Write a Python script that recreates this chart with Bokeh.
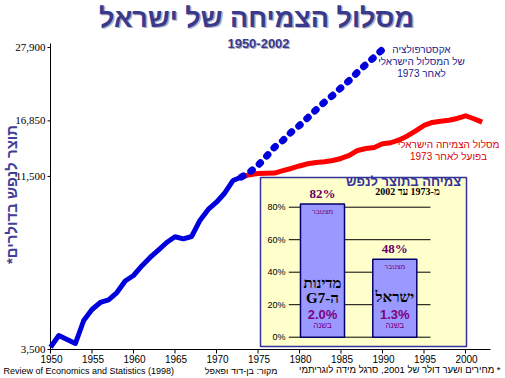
import math
from bokeh.plotting import figure
from bokeh.models import Range1d, Label, LinearScale
from bokeh.embed import file_html
from bokeh.resources import INLINE
from bokeh.core.properties import value

# ---------------- data ----------------
years_hist = list(range(1950, 1974))
gdp_hist = [3556, 3854, 3749, 3648, 4272, 4608, 4835, 4925, 5178, 5606,
            5821, 6216, 6590, 6935, 7303, 7595, 7490, 7610, 8497, 9163,
            9633, 10264, 11185, 11458]

years_extrap = list(range(1973, 1991))
gdp_extrap = [11458, 11842, 12399, 13195, 14062, 14723, 15588, 16325, 17214,
              18186, 19163, 20065, 21156, 22245, 23547, 24829, 26108, 27526]

years_actual = list(range(1973, 2003))
gdp_actual = [11458, 11641, 11737, 11761, 11769, 11965, 12148, 12358, 12547,
              12660, 12721, 12835, 13013, 13284, 13748, 13939, 14035, 14397,
              14496, 14778, 15190, 15721, 16325, 16666, 16816, 16920, 17131,
              17452, 17095, 16700]

y_ticks = [3500, 11500, 16850, 27900]
y_tick_labels = ["3,500", "11,500", "16,850", "27,900"]
x_ticks = [1950, 1955, 1960, 1965, 1970, 1975, 1980, 1985, 1990, 1995, 2000]
x_tick_labels = [str(t) for t in x_ticks]

inset_pos = [0, 1]
inset_cum = [82, 48]
inset_cum_labels = ["82%", "48%"]
inset_annual_labels = ["2.0%", "1.3%"]
inset_name_1 = ["מדינות", "ישראל"]
inset_name_2 = ["\u202bה-G7\u202c", ""]
inset_ticks = [0, 20, 40, 60, 80]
inset_tick_labels = ["0%", "20%", "40%", "60%", "80%"]

# ---------------- geometry of the full-canvas frame ----------------
W, H = 505, 378
X0_PX, PX_PER_YEAR = 50.0, 8.3            # 1950 sits at x=50
Y_LO_PX, Y_HI_PX = 349.0, 47.0            # 3500 at y=349, 27900 at y=47
L0 = math.log10(3500)
K = (math.log10(27900) - L0) / (Y_LO_PX - Y_HI_PX)
AXIS_TOP_PX, AXIS_RIGHT_PX = 43.0, 490.0

x_start = 1950 - X0_PX / PX_PER_YEAR
x_end = 1950 + (W - X0_PX) / PX_PER_YEAR
y_start = 10 ** (L0 - (H - Y_LO_PX) * K)
y_end = 10 ** (L0 + Y_LO_PX * K)
axis_top_val = 10 ** (L0 + (Y_LO_PX - AXIS_TOP_PX) * K)
axis_right_val = 1950 + (AXIS_RIGHT_PX - X0_PX) / PX_PER_YEAR

p = figure(width=W, height=H, title=None,
           x_range=Range1d(x_start, x_end), y_range=Range1d(y_start, y_end),
           y_axis_type="log",
           x_axis_location=None, y_axis_location=None,
           output_backend="svg", toolbar_location=None,
           min_border_left=0, min_border_right=0,
           min_border_top=0, min_border_bottom=0)
p.outline_line_color = None
p.xgrid.visible = False
p.ygrid.visible = False
p.background_fill_color = "white"
p.border_fill_color = "white"

# pixel helper range (value == canvas pixel from top-left)
p.extra_x_ranges["px"] = Range1d(0, W)
p.extra_y_ranges["px"] = Range1d(H, 0)
# inset ranges: bar i centred at 322 + 72.3*i px, 0% at y=336.7 px, 1.625 px per %
bar0, step = 322.0, 72.3
p.extra_x_ranges["ix"] = Range1d((0 - bar0) / step, (W - bar0) / step)
zero_px, ppp = 336.7, 1.625
p.extra_y_ranges["iy"] = Range1d((zero_px - H) / ppp, (zero_px - 0) / ppp)
p.extra_x_scales = {"px": LinearScale(), "ix": LinearScale()}
p.extra_y_scales = {"px": LinearScale(), "iy": LinearScale()}

# ---------------- axes (drawn with the plot's scales) ----------------
p.segment(x0=[1950], y0=[3500], x1=[1950], y1=[axis_top_val], line_color="black", line_width=1)
p.segment(x0=[1950], y0=[3500], x1=[axis_right_val], y1=[3500], line_color="black", line_width=1)
p.ray(x=[1950] * len(y_ticks), y=y_ticks, length=3, length_units="screen",
      angle=math.pi, line_color="black", line_width=1)
p.ray(x=x_ticks, y=[3500] * len(x_ticks), length=4, length_units="screen",
      angle=-math.pi / 2, line_color="black", line_width=1)
p.text(x=[1950] * len(y_ticks), y=y_ticks, text=y_tick_labels, x_offset=-5,
       text_align="right", text_baseline="middle",
       text_font=value("Liberation Serif"), text_font_size="11px", text_color="black")
p.text(x=x_ticks, y=[3500] * len(x_ticks), text=x_tick_labels, x_offset=1, y_offset=5,
       text_align="center", text_baseline="top",
       text_font=value("Liberation Sans"), text_font_size="10px", text_color="black")

# ---------------- main lines ----------------
BLUE = "#0000dd"
p.line(years_hist, gdp_hist, line_color=BLUE, line_width=5, line_join="round")
p.line(years_actual, gdp_actual, line_color="#ff0000", line_width=5, line_join="round")
p.line(years_extrap, gdp_extrap, line_color=BLUE, line_width=7,
       line_dash="2 9", line_cap="round")

# ---------------- inset ----------------
p.quad(left=[260], right=[466], top=[177], bottom=[346],
       fill_color="#ffffcc", line_color="#333399", line_width=1.5,
       x_range_name="px", y_range_name="px")
p.segment(x0=[-0.466] * len(inset_ticks), x1=[1.494] * len(inset_ticks),
          y0=inset_ticks, y1=inset_ticks, line_color="black", line_width=1,
          x_range_name="ix", y_range_name="iy")
p.text(x=[-0.51] * len(inset_ticks), y=inset_ticks, text=inset_tick_labels,
       text_align="right", text_baseline="middle", text_font=value("Liberation Sans"),
       text_font_size="9px", text_color="black",
       x_range_name="ix", y_range_name="iy")
p.vbar(x=inset_pos, top=inset_cum, bottom=0, width=0.609,
       fill_color="#9999ff", line_color="#000066", line_width=1.5,
       x_range_name="ix", y_range_name="iy")
p.text(x=inset_pos, y=inset_cum, text=inset_cum_labels, y_offset=-3,
       text_align="center", text_baseline="bottom",
       text_font=value("Liberation Serif"), text_font_style="bold",
       text_font_size="13px", text_color="#660066",
       x_range_name="ix", y_range_name="iy")
p.text(x=inset_pos, y=inset_cum, text=["מצטבר", "מצטבר"], y_offset=4,
       text_align="center", text_baseline="top",
       text_font=value("Liberation Sans"), text_font_size="7px", text_color="#800080",
       x_range_name="ix", y_range_name="iy")
p.text(x=inset_pos, y=[(zero_px - 282) / ppp, (zero_px - 296.5) / ppp], text=inset_name_1,
       text_align="center", text_baseline="middle",
       text_font=value("Liberation Serif"), text_font_style="bold",
       text_font_size="15px", text_color="black",
       x_range_name="ix", y_range_name="iy")
p.text(x=inset_pos, y=[(zero_px - 297.5) / ppp] * 2, text=inset_name_2,
       text_align="center", text_baseline="middle",
       text_font=value("Liberation Serif"), text_font_style="bold",
       text_font_size="15px", text_color="black",
       x_range_name="ix", y_range_name="iy")
p.text(x=inset_pos, y=[(zero_px - 313.5) / ppp] * 2, text=inset_annual_labels,
       text_align="center", text_baseline="middle",
       text_font=value("Liberation Sans"), text_font_style="bold",
       text_font_size="13px", text_color="#800080",
       x_range_name="ix", y_range_name="iy")
p.text(x=inset_pos, y=[(zero_px - 324.5) / ppp] * 2, text=["בשנה", "בשנה"],
       text_align="center", text_baseline="middle",
       text_font=value("Liberation Sans"), text_font_size="8px", text_color="#800080",
       x_range_name="ix", y_range_name="iy")


def lab(x, y, text, size, color="black", style="normal", align="center",
        font="Liberation Sans", angle=0.0):
    p.add_layout(Label(x=x, y=y, text=text, x_range_name="px", y_range_name="px",
                       text_align=align, text_baseline="middle",
                       text_font=font, text_font_size=size, text_font_style=style,
                       text_color=color, angle=angle))


TITLE_C = "#3a3a8c"
SHADOW = "#b0b0c4"
lab(257.5, 18.5, "מסלול הצמיחה של ישראל", "27px", SHADOW, "bold")
lab(256, 17, "מסלול הצמיחה של ישראל", "27px", TITLE_C, "bold")
lab(259, 44, "1950-2002", "13px", SHADOW, "bold")
lab(258, 43, "1950-2002", "13px", TITLE_C, "bold")

lab(11, 194, "תוצר לנפש בדולרים*\u200f", "15px", "#3f3f99", "bold", angle=math.pi / 2)

ANN_B = "#1a1a8c"
lab(421, 49, "אקסטרפולציה", "10px", ANN_B)
lab(421, 61, "של המסלול הישראלי", "10px", ANN_B)
lab(421, 73, "לאחר 1973", "10px", ANN_B)
ANN_R = "#dd0000"
lab(448, 144, "מסלול הצמיחה הישראלי", "10px", ANN_R)
lab(448, 156, "בפועל לאחר 1973", "10px", ANN_R)

lab(403, 181, "צמיחה בתוצר לנפש", "13px", "#333399", "bold")
lab(407, 191, "מ-1973 עד 2002", "10px", "black", "bold", font="Liberation Serif")

lab(3, 370, "Review of Economics and Statistics (1998)", "9px", align="left")
lab(277, 370, "מקור: בן-דוד ופאפל", "9px", align="right")
lab(500, 369, "\u200f* מחירים ושער דולר של 2001, סרגל מידה לוגריתמי", "9.5px", align="right")

open("out.html", "w").write(file_html(p, INLINE))
